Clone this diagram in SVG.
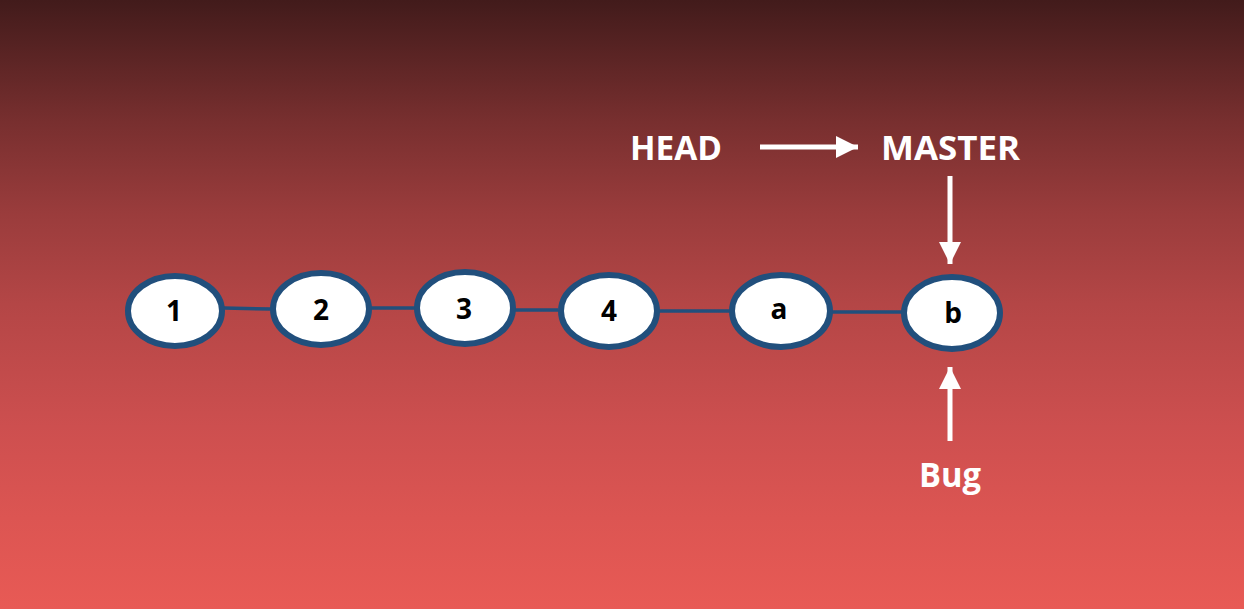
<svg xmlns="http://www.w3.org/2000/svg" width="1244" height="609" viewBox="0 0 1244 609">
<defs>
<linearGradient id="bg" x1="0" y1="0" x2="0" y2="1">
<stop offset="0" stop-color="#421b1b"/>
<stop offset="0.2" stop-color="#782f2f"/>
<stop offset="0.35" stop-color="#9a3c3c"/>
<stop offset="0.5" stop-color="#b44646"/>
<stop offset="0.7" stop-color="#cd4f4f"/>
<stop offset="0.85" stop-color="#dc5552"/>
<stop offset="1" stop-color="#e85a55"/>
</linearGradient>
<marker id="ah" viewBox="0 0 10 10" refX="10" refY="5" markerWidth="4.4" markerHeight="4.4" markerUnits="strokeWidth" orient="auto" preserveAspectRatio="none">
<path d="M0,0 L10,5 L0,10 Z" fill="#ffffff"/>
</marker>
<style>
.node ellipse{fill:#ffffff;stroke:#214f7c;stroke-width:6}
.node text{font-family:"Open Sans","Liberation Sans",sans-serif;font-weight:bold;font-size:28px;fill:#000000;text-anchor:middle}
.lbl{font-family:"Open Sans","Liberation Sans",sans-serif;font-weight:bold;font-size:34px;fill:#ffffff}
.edge{stroke:#214f7c;stroke-width:3.5;fill:none}
.ptr{stroke:#ffffff;stroke-width:5;fill:none;marker-end:url(#ah)}
</style>
</defs>
<rect x="0" y="0" width="1244" height="609" fill="url(#bg)"/>
<g id="connectors">
<line class="edge" x1="224" y1="308" x2="271" y2="309"/>
<line class="edge" x1="370" y1="308" x2="415" y2="308"/>
<line class="edge" x1="515" y1="310" x2="558" y2="310"/>
<line class="edge" x1="659" y1="311" x2="730" y2="311"/>
<line class="edge" x1="832" y1="312" x2="902" y2="312"/>
<line class="ptr" x1="760" y1="147" x2="858" y2="147"/>
<line class="ptr" x1="950" y1="176" x2="950" y2="264"/>
<line class="ptr" x1="950" y1="441" x2="950" y2="367"/>
</g>
<g id="n1" class="node"><ellipse cx="175" cy="311" rx="47" ry="35"/><text x="174" y="321">1</text></g>
<g id="n2" class="node"><ellipse cx="321" cy="309" rx="48" ry="36"/><text x="321" y="320">2</text></g>
<g id="n3" class="node"><ellipse cx="465" cy="308" rx="48" ry="36"/><text x="464" y="319">3</text></g>
<g id="n4" class="node"><ellipse cx="609" cy="311" rx="48" ry="36"/><text x="609" y="321">4</text></g>
<g id="na" class="node"><ellipse cx="781" cy="311" rx="49" ry="36"/><text x="779" y="319">a</text></g>
<g id="nb" class="node"><ellipse cx="952" cy="313" rx="48" ry="36"/><text x="953" y="323">b</text></g>
<g id="head"><text class="lbl" x="630" y="160" textLength="92" lengthAdjust="spacingAndGlyphs">HEAD</text></g>
<g id="master"><text class="lbl" x="881" y="160" textLength="139" lengthAdjust="spacingAndGlyphs">MASTER</text></g>
<g id="bug"><text class="lbl" x="919" y="487" textLength="62" lengthAdjust="spacingAndGlyphs">Bug</text></g>
</svg>
